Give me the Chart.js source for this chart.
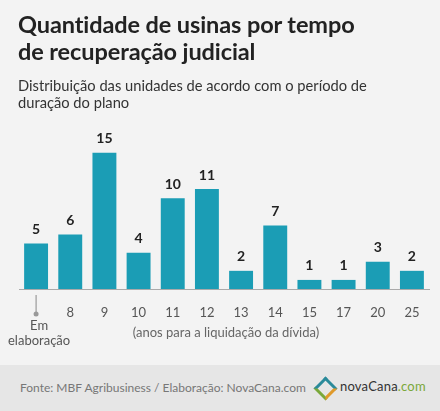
<!DOCTYPE html>
<html><head><meta charset="utf-8">
<script src="https://cdn.jsdelivr.net/npm/chart.js@4"></script>
<style>
body{margin:0;width:440px;height:411px;background:#f3f3f3;font-family:Lato,"Open Sans",sans-serif;position:relative;overflow:hidden}
#t{position:absolute;left:18px;top:11px;font-size:23.5px;font-weight:bold;color:#222;line-height:27px;letter-spacing:-0.1px}
#s{position:absolute;left:18px;top:77px;font-size:14.7px;color:#333;line-height:17px}
#wrap{position:absolute;left:0;top:0;width:440px;height:365px}
#f{position:absolute;left:0;top:365px;width:440px;height:46px;background:#e6e6e6}
#ft{position:absolute;left:20px;top:15px;font-size:12px;color:#777}
#lg{position:absolute;left:316px;top:13px;font-size:13px;color:#333;letter-spacing:0.2px}
#dm{position:absolute;left:1px;top:2px;width:11px;height:11px;border:3px solid #2a8a9a;border-right-color:#e09a2a;border-bottom-color:#7aa83a;transform:rotate(45deg)}
</style></head><body>
<div id="wrap"><canvas id="c"></canvas></div>
<div id="t">Quantidade de usinas por tempo<br>de recuperação judicial</div>
<div id="s">Distribuição das unidades de acordo com o período de<br>duração do plano</div>
<div id="f"><div id="ft">Fonte: MBF Agribusiness / Elaboração: NovaCana.com</div>
<div id="lg"><div id="dm"></div><span style="margin-left:24px">novaCana<span style="color:#7aa83a">.com</span></span></div></div>
<script>
const categories=['Em elaboração','8','9','10','11','12','13','14','15','17','20','25'];
const values=[5,6,15,4,10,11,2,7,1,1,3,2];
const xTitle='(anos para a liquidação da dívida)';
const plug={id:'p',afterDraw(ch){
 const c=ch.ctx,x=ch.scales.x,y=ch.scales.y;
 c.save();c.textAlign='center';
 c.font='bold 14px Lato, sans-serif';c.fillStyle='#222';c.textBaseline='bottom';
 values.forEach((v,i)=>c.fillText(v,x.getPixelForValue(i),y.getPixelForValue(v)-7));
 const x0=x.getPixelForValue(0);
 c.strokeStyle='#888';c.lineWidth=1;c.beginPath();c.moveTo(x0,295);c.lineTo(x0,313);c.stroke();
 c.fillStyle='#999';c.beginPath();c.arc(x0,314,2.5,0,7);c.fill();
 c.font='13px Lato, sans-serif';c.fillStyle='#555';c.textBaseline='middle';
 c.fillText('Em',x0+3,326);c.fillText('elaboração',x0+3,341);
 c.font='13px Lato, sans-serif';c.fillStyle='#666';c.fillText(xTitle,226,333);
 c.restore();}};
new Chart(document.getElementById('c'),{type:'bar',
data:{labels:categories,datasets:[{data:values,backgroundColor:'#1b9db5',barPercentage:0.7,categoryPercentage:1}]},
options:{responsive:true,maintainAspectRatio:false,animation:false,
layout:{padding:{left:19,right:11,top:130,bottom:0}},
plugins:{legend:{display:false},tooltip:{enabled:false}},
scales:{y:{display:false,min:0,max:17.5},
x:{grid:{display:false},border:{color:'#aaa'},afterFit(s){s.height=76},
ticks:{color:'#555',font:{size:13,family:'Lato'},padding:8,maxRotation:0,autoSkip:false,callback:(v,i)=>i===0?'':categories[i]}}}},
plugins:[plug]});
</script></body></html>
